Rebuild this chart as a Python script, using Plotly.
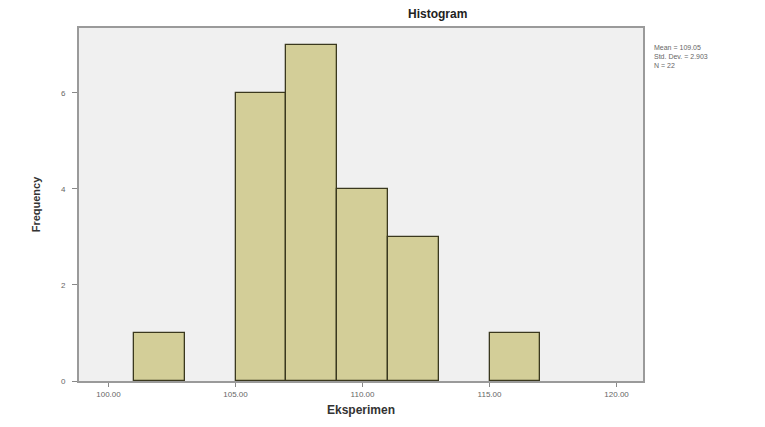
import plotly.graph_objects as go

# Data
bin_centers = [102, 104, 106, 108, 110, 112, 114, 116]
frequencies = [1, 0, 6, 7, 4, 3, 0, 1]
bin_width = 2
x_ticks = [100, 105, 110, 115, 120]
y_ticks = [0, 2, 4, 6]
stats_lines = ["Mean = 109.05", "Std. Dev. = 2.903", "N = 22"]

OFF = 8  # default page body margin
W, H = 765 - OFF, 427 - OFF
L, R, T, B = 79 - OFF, 122, 28 - OFF, 44
PW, PH = W - L - R, H - T - B

def px_x(xa):
    return (xa - OFF - L) / PW

def px_y(ya):
    return 1 - (ya - OFF - T) / PH

fig = go.Figure()
fig.add_trace(go.Bar(
    x=bin_centers, y=frequencies, width=[bin_width] * len(bin_centers),
    marker=dict(color="rgb(211,206,152)",
                line=dict(color="rgb(58,56,30)",
                          width=[1.3 if f > 0 else 0 for f in frequencies])),
    showlegend=False,
))

fig.update_layout(
    width=W, height=H,
    margin=dict(l=L, r=R, t=T, b=B),
    paper_bgcolor="white", plot_bgcolor="rgb(240,240,240)",
    font=dict(family="Liberation Sans, Arial, sans-serif", color="#555"),
    bargap=0,
    xaxis=dict(
        range=[98.84, 121.04], tickvals=x_ticks, tickformat=".2f",
        ticks="outside", ticklen=4, tickcolor="#888", showgrid=False, zeroline=False,
        showline=True, linecolor="#9a9a9a", linewidth=2, mirror=True,
        tickfont=dict(size=8, color="#666"),
        title=dict(text="<b>Eksperimen</b>", font=dict(size=12, color="#333"), standoff=8),
    ),
    yaxis=dict(
        range=[0, 7.35], tickvals=y_ticks,
        ticks="outside", ticklen=5, tickcolor="#888", showgrid=False, zeroline=False,
        showline=True, linecolor="#9a9a9a", linewidth=2, mirror=True,
        tickfont=dict(size=8, color="#666"), ticklabelstandoff=5,
        title=dict(text="<b>Frequency</b>", font=dict(size=11, color="#333"), standoff=18),
    ),
)

# Title
fig.add_annotation(text="<b>Histogram</b>", xref="paper", yref="paper",
                   x=px_x(437), y=px_y(14),
                   yanchor="middle", xanchor="center", showarrow=False,
                   font=dict(size=12, color="#222"))

# Stats box text
fig.add_annotation(text="<br>".join(stats_lines), xref="paper", yref="paper",
                   x=px_x(652), y=px_y(42),
                   xanchor="left", yanchor="top", align="left", showarrow=False,
                   font=dict(size=7, color="#666"))

fig.write_html("out.html")
